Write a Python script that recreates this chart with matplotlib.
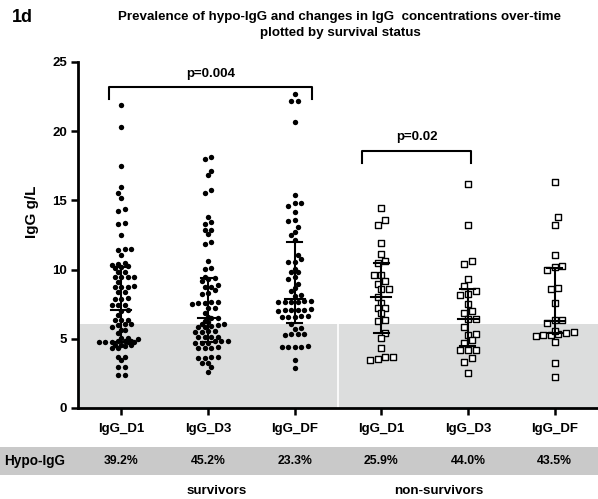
import matplotlib
matplotlib.use('Agg')
import matplotlib.pyplot as plt
from matplotlib.patches import Rectangle
import numpy as np

categories = ['IgG_D1', 'IgG_D3', 'IgG_DF', 'IgG_D1', 'IgG_D3', 'IgG_DF']

surv_d1 = [21.9, 20.3, 17.5, 16.0, 15.5, 15.2, 14.4, 14.2, 13.4, 13.3, 12.5,
           11.46, 11.39, 11.51, 11.03, 10.43, 10.19, 10.48, 10.12, 10.26, 10.36,
           9.83, 9.8, 9.47, 9.45, 9.5, 9.44, 9.11, 8.82, 8.75, 8.77, 8.73,
           8.39, 8.41, 7.91, 7.93, 7.89, 7.44, 7.46, 7.42, 7.08, 7.0, 6.71,
           6.35, 6.37, 6.33,
           6.05, 6.0, 6.08, 5.87, 5.63, 5.6, 5.39, 5.03, 5.05, 5.0, 4.82, 4.78,
           4.8, 4.76, 4.84, 4.79, 4.81, 4.77, 4.54, 4.56, 4.5, 4.52, 4.3, 4.32,
           3.7, 3.72, 3.46, 2.98, 2.95, 2.38, 2.4]
surv_d3 = [18.0, 18.12, 17.09, 16.8, 15.55, 15.72, 13.79, 13.43, 13.31, 12.83,
           12.85, 12.59, 11.99, 11.82, 10.62, 10.07, 10.14, 9.42, 9.3, 9.2, 9.45,
           8.75, 8.77, 8.9, 8.27, 8.29, 8.5, 7.64, 7.62, 7.55, 7.66, 7.6, 7.21,
           7.23, 6.83, 6.5, 6.52, 6.3, 6.55, 6.2,
           6.06, 6.04, 6.0, 5.87, 5.82, 5.9, 5.55, 5.52, 5.58, 5.5, 5.14, 5.12,
           5.1, 5.16, 4.83, 4.85, 4.81, 4.7, 4.68, 4.72, 4.33, 4.3, 4.35, 4.38,
           3.63, 3.6, 3.66, 3.65, 3.24, 3.22, 2.93, 2.62]
surv_df = [22.69, 22.2, 22.15, 20.69, 15.36, 14.78, 14.58, 14.8, 14.15, 13.6,
           13.48, 13.07, 12.71, 12.47, 12.16, 11.03, 10.74, 10.55, 10.57, 10.07,
           9.83, 9.85, 9.47, 9.35, 8.99, 8.7, 8.46, 8.07, 8.15,
           7.68, 7.66, 7.7, 7.72, 7.65, 7.69, 7.07, 7.02, 7.1, 7.05, 7.12, 7.08,
           6.6, 6.55, 6.62, 6.58, 6.64,
           6.05, 5.74, 5.76, 5.33, 5.3, 5.36, 5.35, 4.42, 4.4, 4.45, 4.38, 4.43,
           3.46, 2.86]
nons_d1 = [14.44, 13.55, 13.24, 11.9, 11.1, 10.62, 10.48, 9.6, 9.64, 9.18,
           8.99, 8.63, 8.6, 8.03, 7.6, 7.19, 7.22, 6.83, 6.34, 6.3,
           5.45, 5.03, 4.3, 3.68, 3.46, 3.55, 3.65]
nons_d3 = [16.15, 13.24, 10.62, 10.38, 9.3, 8.82, 8.27, 8.15, 8.42, 7.48, 6.99,
           6.87, 6.42, 6.44,
           5.82, 5.38, 5.28, 4.9, 4.71, 4.18, 4.2, 4.16, 3.6, 3.34, 2.55]
nons_df = [16.3, 13.79, 13.19, 11.08, 10.19, 10.26, 10.0, 8.63, 8.7, 7.59,
           6.34, 6.36, 6.15,
           5.33, 5.5, 5.26, 5.43, 5.19, 5.57, 5.24, 4.78, 3.22, 2.26]

medians = [7.1, 6.5, 7.9, 8.0, 6.4, 6.3]
q1 = [4.8, 4.8, 6.15, 5.4, 4.5, 5.4]
q3 = [10.2, 9.4, 12.0, 10.5, 8.6, 10.1]
hypo_threshold = 6.1
hypo_pct = ['39.2%', '45.2%', '23.3%', '25.9%', '44.0%', '43.5%']

FONT = ['Liberation Sans', 'DejaVu Sans']

W, H = 598, 499
fig = plt.figure(figsize=(W / 100, H / 100), dpi=100)
ax_l, ax_r, ax_b, ax_t = 78, 598, 408, 62
ax = fig.add_axes([ax_l / W, 1 - ax_b / H, (ax_r - ax_l) / W, (ax_b - ax_t) / H])
ax.set_xlim(-0.5, 5.5)
ax.set_ylim(0, 25)
px_x = (ax_r - ax_l) / 6.0
px_y = (ax_b - ax_t) / 25.0


def swarm(vals, row_h, sp):
    """Column-scatter layout: group into adaptive rows, centre each, stagger neighbours."""
    ys = np.asarray(vals, float) * px_y
    order = np.argsort(ys, kind='stable')
    rows, cur, start = [], [], None
    for i in order:
        if start is None or ys[i] - start >= row_h:
            if cur:
                rows.append(cur)
            cur, start = [i], ys[i]
        else:
            cur.append(i)
    if cur:
        rows.append(cur)
    xs = np.zeros(len(ys))
    prev_pos, prev_y, flip = np.array([]), -1e9, 1
    for r in rows:
        n = len(r)
        pos = (np.arange(n) - (n - 1) / 2.0) * sp
        ymean = ys[r].mean()
        if len(prev_pos) and ymean - prev_y < 2 * row_h:
            if np.min(np.abs(pos[:, None] - prev_pos[None, :])) < sp / 2 - 0.1:
                pos = pos + flip * sp / 2.0
                flip = -flip
        xs[r] = pos
        prev_pos, prev_y = pos, ymean
    return xs / px_x


# grey hypo-IgG band
ax.axhspan(0, hypo_threshold, color='#dcdddd', zorder=0, lw=0)
ax.plot([2.5, 2.5], [0, hypo_threshold], color='white', lw=1.2, zorder=1)

groups = [surv_d1, surv_d3, surv_df, nons_d1, nons_d3, nons_df]
for i, vals in enumerate(groups):
    if i < 3:
        off = swarm(vals, 3.3, 6.5)
        ax.scatter(i + off, vals, s=15, c='black', marker='o', lw=0, zorder=3)
    else:
        off = swarm(vals, 4.5, 7.6)
        ax.scatter(i + off, vals, s=21, facecolors='white', edgecolors='black',
                   marker='s', lw=1.0, zorder=3)
    cw = 7.5 / px_x
    mw = 10 / px_x
    ax.plot([i, i], [q1[i], q3[i]], color='black', lw=1.5, zorder=4)
    ax.plot([i - cw, i + cw], [q1[i], q1[i]], color='black', lw=1.5, zorder=4)
    ax.plot([i - cw, i + cw], [q3[i], q3[i]], color='black', lw=1.5, zorder=4)
    ax.plot([i - mw, i + mw], [medians[i], medians[i]], color='black', lw=1.5, zorder=4)

# significance brackets
ax.plot([-0.14, -0.14, 2.2, 2.2], [22.3, 23.2, 23.2, 22.3], color='black', lw=1.5,
        clip_on=False, zorder=4)
ax.text(1.03, 24.15, 'p=0.004', ha='center', va='center', fontsize=9.5,
        fontweight='bold', family=FONT)
ax.plot([2.78, 2.78, 4.04, 4.04], [17.7, 18.55, 18.55, 17.7], color='black', lw=1.5,
        clip_on=False, zorder=4)
ax.text(3.41, 19.6, 'p=0.02', ha='center', va='center', fontsize=9.5,
        fontweight='bold', family=FONT)

for sp in ['top', 'right']:
    ax.spines[sp].set_visible(False)
for sp in ['left', 'bottom']:
    ax.spines[sp].set_linewidth(2)
ax.set_yticks([0, 5, 10, 15, 20, 25])
ax.set_xticks(range(6))
ax.set_xticklabels(categories)
ax.tick_params(axis='both', width=1.8, length=5, direction='out', pad=3)
for lab in ax.get_yticklabels() + ax.get_xticklabels():
    lab.set_fontweight('bold')
    lab.set_family(FONT)
    lab.set_fontsize(9.5)
ax.tick_params(axis='x', pad=6)
ax.set_ylabel('IgG g/L', fontsize=11, fontweight='bold', family=FONT)
ax.yaxis.set_label_coords((39 - ax_l) / (ax_r - ax_l), (ax_b - 212) / (ax_b - ax_t))

# title and panel label
fig.text(340 / W, 1 - 17 / H, 'Prevalence of hypo-IgG and changes in IgG  concentrations over-time',
         ha='center', va='center', fontsize=9.6, fontweight='bold', family=FONT)
fig.text(340 / W, 1 - 33 / H, 'plotted by survival status',
         ha='center', va='center', fontsize=9.6, fontweight='bold', family=FONT)
fig.text(22 / W, 1 - 18 / H, '1d', ha='center', va='center', fontsize=13,
         fontweight='bold', family=FONT)

# table band
fig.patches.append(Rectangle((0, 1 - 475 / H), 1, 28 / H, transform=fig.transFigure,
                             facecolor='#c9c9c9', edgecolor='none', zorder=0))
fig.text(35 / W, 1 - 461 / H, 'Hypo-IgG', ha='center', va='center', fontsize=9.8,
         fontweight='bold', family=FONT)
for i, p in enumerate(hypo_pct):
    xf = (ax_l + (i + 0.5) * px_x) / W
    fig.text(xf, 1 - 461 / H, p, ha='center', va='center', fontsize=8.8,
             fontweight='bold', family=FONT)
fig.text(217 / W, 1 - 491 / H, 'survivors', ha='center', va='center', fontsize=9.6,
         fontweight='bold', family=FONT)
fig.text(439 / W, 1 - 491 / H, 'non-survivors', ha='center', va='center', fontsize=9.6,
         fontweight='bold', family=FONT)

fig.savefig('out.png', dpi=100)
